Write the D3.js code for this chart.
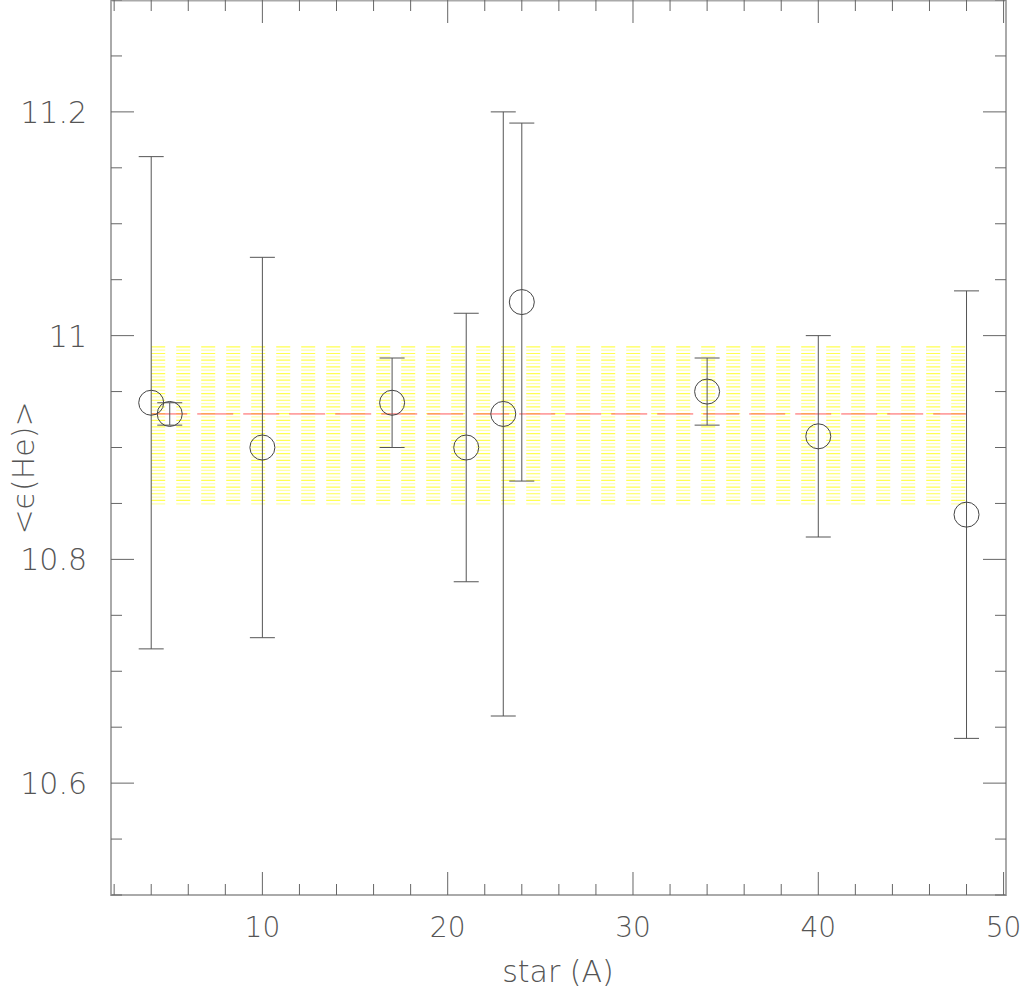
<!DOCTYPE html>
<html>
<head>
<meta charset="utf-8">
<script src="https://cdn.jsdelivr.net/npm/d3@7"></script>
<style>
body { margin: 0; background: #fff; }
text { font-family: "DejaVu Sans", sans-serif; font-weight: 200; fill: #555; }
</style>
</head>
<body>
<svg id="chart" width="1021" height="991"></svg>
<script>
var svg = d3.select("#chart");

// star number, mean <eps(He)>, lower and upper end of error bar
var stars = [4, 5, 10, 17, 21, 23, 24, 34, 40, 48];
var eps   = [10.94, 10.93, 10.90, 10.94, 10.90, 10.93, 11.03, 10.95, 10.91, 10.84];
var errLo = [10.72, 10.92, 10.73, 10.90, 10.78, 10.66, 10.87, 10.92, 10.82, 10.64];
var errHi = [11.16, 10.94, 11.07, 10.98, 11.02, 11.20, 11.19, 10.98, 11.00, 11.04];

var meanEps = 10.93;
var band = [10.85, 10.99];
var bandStars = [4, 48];

var xMajor = [10, 20, 30, 40, 50];
var xMinor = d3.range(2, 51, 2);
var yMajor = [10.6, 10.8, 11, 11.2];
var yMinor = d3.range(10.5, 11.31, 0.05);

var mLeft = 111, mTop = 0, w = 895, h = 895;

var x = d3.scaleLinear().domain([1.83, 50.13]).range([mLeft, mLeft + w]);
var y = d3.scaleLinear().domain([10.5, 11.3]).range([mTop + h, mTop]);

// yellow hatched band
var g = svg.append("g");
var rows = d3.range(y(band[1]), y(band[0]) + 0.5, 3.34);
g.selectAll("line.hatch").data(rows).enter().append("line")
	.attr("class", "hatch")
	.attr("x1", x(bandStars[0])).attr("x2", x(bandStars[1]))
	.attr("y1", function(d){ return d; }).attr("y2", function(d){ return d; })
	.attr("stroke", function(d, i){ return i % 2 ? "#ffffa8" : "#ffff50"; })
	.attr("stroke-width", 1.2)
	.attr("stroke-dasharray", "14 11");

// mean line
svg.append("line")
	.attr("x1", x(bandStars[0])).attr("x2", x(bandStars[1]))
	.attr("y1", y(meanEps)).attr("y2", y(meanEps))
	.attr("stroke", "#ff5a5a").attr("stroke-width", 1)
	.attr("stroke-dasharray", "36 10");

// frame
svg.append("rect")
	.attr("x", mLeft).attr("y", mTop + 0.5).attr("width", w).attr("height", h - 0.5)
	.attr("fill", "none").attr("stroke", "#aaa").attr("stroke-width", 2);

// ticks (inward, on all four sides)
var tickCol = "#666";
function xTicks(vals, len){
	[[mTop + h, -1], [mTop, 1]].forEach(function(s){
		svg.selectAll(null).data(vals).enter().append("line")
			.attr("x1", function(d){ return x(d); }).attr("x2", function(d){ return x(d); })
			.attr("y1", s[0]).attr("y2", s[0] + s[1] * len)
			.attr("stroke", tickCol).attr("stroke-width", 1);
	});
}
function yTicks(vals, len){
	[[mLeft, 1], [mLeft + w, -1]].forEach(function(s){
		svg.selectAll(null).data(vals).enter().append("line")
			.attr("y1", function(d){ return y(d); }).attr("y2", function(d){ return y(d); })
			.attr("x1", s[0]).attr("x2", s[0] + s[1] * len)
			.attr("stroke", tickCol).attr("stroke-width", 1);
	});
}
xTicks(xMinor.filter(function(d){ return d % 10 != 0; }), 11);
xTicks(xMajor, 23);
yTicks(yMinor.filter(function(d){ return Math.abs(Math.round(d * 5) - d * 5) > 1e-6; }), 11);
yTicks(yMajor, 23);

// tick labels
svg.selectAll("text.xl").data(xMajor).enter().append("text")
	.attr("class", "xl")
	.attr("x", function(d){ return x(d); }).attr("y", 937)
	.attr("text-anchor", "middle").attr("font-size", 28)
	.text(function(d){ return d; });
svg.selectAll("text.yl").data(yMajor).enter().append("text")
	.attr("class", "yl")
	.attr("x", 87).attr("y", function(d){ return y(d) + 11; })
	.attr("text-anchor", "end").attr("font-size", 30)
	.text(function(d){ return d3.format("~g")(d); });

// axis titles
svg.append("text")
	.attr("x", 558).attr("y", 982)
	.attr("text-anchor", "middle").attr("font-size", 30)
	.text("star (A)");
svg.append("text")
	.attr("transform", "translate(34," + 468 + ") rotate(-90)")
	.attr("text-anchor", "middle").attr("font-size", 30)
	.text("<\u03f5(He)>");

// error bars and points
var pts = stars.map(function(s, i){
	return {star: s, eps: eps[i], lo: errLo[i], hi: errHi[i]};
});
var bars = svg.append("g").attr("stroke", "#555").attr("stroke-width", 1).attr("fill", "none");
bars.selectAll("line.v").data(pts).enter().append("line")
	.attr("x1", function(d){ return x(d.star); }).attr("x2", function(d){ return x(d.star); })
	.attr("y1", function(d){ return y(d.lo); }).attr("y2", function(d){ return y(d.hi); });
["lo", "hi"].forEach(function(k){
	bars.selectAll(null).data(pts).enter().append("line")
		.attr("x1", function(d){ return x(d.star) - 12.5; }).attr("x2", function(d){ return x(d.star) + 12.5; })
		.attr("y1", function(d){ return y(d[k]); }).attr("y2", function(d){ return y(d[k]); });
});
bars.selectAll("circle").data(pts).enter().append("circle")
	.attr("cx", function(d){ return x(d.star); })
	.attr("cy", function(d){ return y(d.eps); })
	.attr("r", 12.5)
	.attr("stroke", "#444");
</script>
</body>
</html>
